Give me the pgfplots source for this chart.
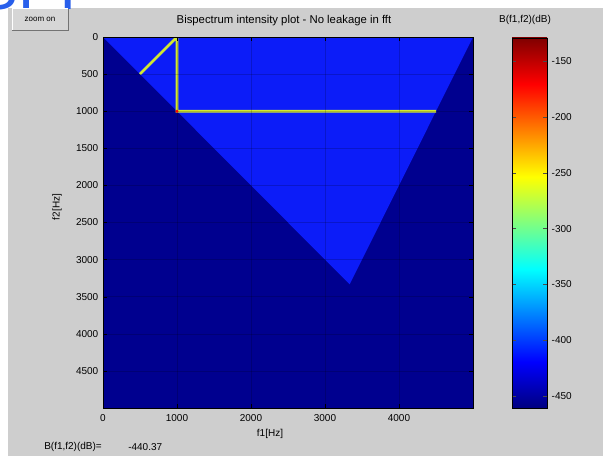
\documentclass[border=0pt]{standalone}
\usepackage{pgfplots}
\pgfplotsset{compat=1.18}
\usepackage{fontspec}
\setmainfont{Liberation Sans}
\definecolor{panelgray}{RGB}{206,206,206}
\definecolor{btngray}{RGB}{214,214,214}
\definecolor{darknavy}{RGB}{0,0,143}
\definecolor{trib}{RGB}{12,28,248}
\definecolor{ylw}{RGB}{210,232,50}
\definecolor{slideblue}{RGB}{40,95,235}
\definecolor{jA}{RGB}{0,0,128}
\definecolor{jB}{RGB}{0,0,255}
\definecolor{jC}{RGB}{0,255,255}
\definecolor{jD}{RGB}{255,255,0}
\definecolor{jE}{RGB}{255,0,0}
\definecolor{jF}{RGB}{128,0,0}
\pgfdeclareverticalshading{jetbar}{100bp}{color(0bp)=(jA); color(25bp)=(jA); color(31.25bp)=(jB); color(43.75bp)=(jC); color(56.25bp)=(jD); color(68.75bp)=(jE); color(75bp)=(jF); color(100bp)=(jF)}
\newcommand\lbl{\fontsize{7.5}{8}\selectfont}
\begin{document}
\begin{tikzpicture}
\begin{scope}[x=0.75pt,y=-0.75pt]
\useasboundingbox (0,0) rectangle (603,456);
\fill[white] (0,0) rectangle (603,456);
\fill[panelgray] (8,8) rectangle (603,456);
\begin{scope}
\clip (0,0) rectangle (603,10);
\node[anchor=base west, inner sep=0pt, font=\fontsize{47}{47}\selectfont, text=slideblue] at (-24,9.5) {SPI};
\end{scope}
% zoom button
\fill[btngray] (12,9) rectangle (68,31);
\draw[white, line width=0.75pt] (12,31) -- (12,9) -- (68,9);
\draw[black!55, line width=0.75pt] (12,31) -- (68,31) -- (68,9);
\node[font=\fontsize{6}{6}\selectfont, inner sep=0pt] at (40,19) {zoom on};
\end{scope}

\begin{axis}[
  at={(77.25pt,-27.75pt)}, anchor=north west,
  scale only axis, width=277.5pt, height=278.25pt,
  xmin=0, xmax=5000, ymin=0, ymax=5000, y dir=reverse,
  xtick={0,1000,2000,3000,4000},
  ytick={0,500,1000,1500,2000,2500,3000,3500,4000,4500},
  scaled ticks=false,
  /pgf/number format/assume math mode=true,
  /pgf/number format/set thousands separator={},
  tick label style={font=\lbl},
  xticklabel style={yshift=-1pt},
  tick align=inside, major tick length=3pt,
  tick style={black},
  axis on top,
  grid=major, grid style={black, opacity=0.18, line width=0.4pt},
  axis line style={black, line width=0.5pt},
]
\addplot[fill=darknavy, draw=none] coordinates {(0,0) (5000,0) (5000,5000) (0,5000)};
\addplot[fill=trib, draw=none] coordinates {(0,0) (5000,0) (3333.3,3333.3)};
\addplot[ylw, line width=2pt, line join=miter] coordinates {(500,500) (1000,0) (1000,1000) (4500,1000)};
\addplot[only marks, mark=*, mark size=0.9pt, red, mark options={draw=none}] coordinates {(1000,1000)};
\end{axis}

% colour bar
\begin{axis}[
  at={(384pt,-28.5pt)}, anchor=north west,
  scale only axis, width=26.25pt, height=277.5pt,
  xmin=0, xmax=1, ymin=-461, ymax=-129,
  xtick=\empty,
  ytick={-450,-400,-350,-300,-250,-200,-150},
  yticklabels={-450,-400,-350,-300,-250,-200,-150},
  yticklabel style={font=\lbl},
  ytick pos=both, yticklabel pos=right,
  tick align=inside, major tick length=3pt,
  tick style={black!70},
  axis on top,
  axis line style={black, line width=0.5pt},
]
\shade[shading=jetbar] (axis cs:0,-461) rectangle (axis cs:1,-129);
\end{axis}

\begin{scope}[x=0.75pt,y=-0.75pt]
\node[font=\fontsize{8.5}{9}\selectfont, inner sep=0pt] at (284,21) {Bispectrum intensity plot - No leakage in fft};
\node[font=\lbl, inner sep=0pt] at (525,20) {B(f1,f2)(dB)};
\node[font=\lbl, inner sep=0pt, rotate=90] at (57,207) {f2[Hz]};
\node[font=\lbl, inner sep=0pt] at (270,434) {f1[Hz]};
\node[font=\lbl, inner sep=0pt, anchor=west] at (44,447) {B(f1,f2)(dB)=};
\node[font=\lbl, inner sep=0pt, anchor=west] at (128,447) {-440.37};
\end{scope}
\end{tikzpicture}
\end{document}
